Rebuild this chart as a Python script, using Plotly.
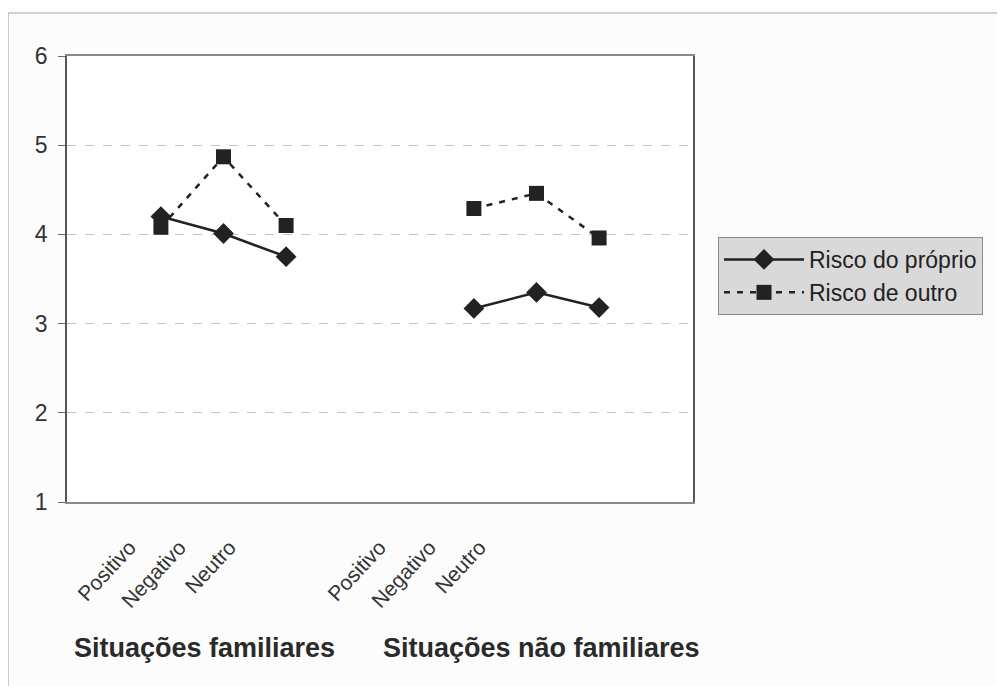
import plotly.graph_objects as go

# ---- data ----
categories = ["", "Positivo", "Negativo", "Neutro", "", "", "Positivo", "Negativo", "Neutro", ""]
risco_proprio = [None, 4.20, 4.01, 3.75, None, None, 3.17, 3.35, 3.18, None]
risco_outro = [None, 4.08, 4.87, 4.10, None, None, 4.29, 4.46, 3.96, None]
group_labels = ["Situações familiares", "Situações não familiares"]
y_ticks = [1, 2, 3, 4, 5, 6]

x_idx = list(range(len(categories)))
label_idx = [i for i, c in enumerate(categories) if c]
label_txt = [categories[i] for i in label_idx]

FONT = "Liberation Sans, Arial, sans-serif"
INK = "#222222"

# page body has an 8px margin: size/margins compensate for it
W, H = 997, 678
PL, PT, PW, PH = 59, 48, 626, 446

fig = go.Figure()
fig.add_trace(go.Scatter(
    x=x_idx, y=risco_proprio, mode="lines+markers", name="Risco do próprio",
    line=dict(color=INK, width=2.5),
    marker=dict(symbol="diamond", size=16, color=INK),
    connectgaps=False,
))
fig.add_trace(go.Scatter(
    x=x_idx, y=risco_outro, mode="lines+markers", name="Risco de outro",
    line=dict(color=INK, width=2.5, dash="6px,7px"),
    marker=dict(symbol="square", size=15, color=INK),
    connectgaps=False,
))

fig.update_layout(
    width=W, height=H,
    margin=dict(l=PL, r=W - PL - PW, t=PT, b=H - PT - PH),
    paper_bgcolor="#fcfcfc",
    plot_bgcolor="#ffffff",
    font=dict(family=FONT, color="#333333"),
    showlegend=True,
    legend=dict(
        x=(710 - PL) / PW, y=(PT + PH - 229) / PH, xanchor="left", yanchor="top",
        bgcolor="#d9d9d9", bordercolor="#8a8a8a", borderwidth=1,
        font=dict(size=23, color="#222222", family=FONT),
        itemwidth=80, tracegroupgap=0,
    ),
    xaxis=dict(
        range=[-0.5, len(categories) - 0.5],
        showticklabels=False, showgrid=False, zeroline=False,
        showline=True, mirror=True, linecolor="#8a8a8a", linewidth=1.5,
        ticks="",
    ),
    xaxis2=dict(
        overlaying="x", anchor="y", side="bottom",
        range=[-0.25, -0.25 + PW / 50],
        tickmode="array", tickvals=label_idx, ticktext=label_txt,
        tickangle=-47, showgrid=False, zeroline=False, showline=False,
        ticks="", tickfont=dict(size=21, color="#333333", family=FONT),
        ticklabelstandoff=28,
    ),
    yaxis=dict(
        range=[1, 6], tickmode="array", tickvals=y_ticks,
        showgrid=True, gridcolor="#c4c4c4", griddash="dash", gridwidth=1,
        zeroline=False, showline=True, mirror=True,
        linecolor="#555555", linewidth=1.5,
        ticks="outside", ticklen=7, tickcolor="#666666",
        tickfont=dict(size=23, color="#333333", family=FONT),
        ticklabelstandoff=6,
    ),
)

# invisible anchor trace so the label axis is drawn
fig.add_trace(go.Scatter(x=label_idx, y=[None] * len(label_idx), xaxis="x2",
                         showlegend=False, hoverinfo="skip", mode="markers"))

# group labels
for txt, xc in zip(group_labels, [196, 533]):
    fig.add_annotation(
        text=f"<b>{txt}</b>", xref="paper", yref="paper",
        x=(xc - PL) / PW, y=(PT + PH - 640) / PH,
        xanchor="center", yanchor="middle", showarrow=False,
        font=dict(size=27, color="#2a2a2a", family=FONT),
    )

# outer frame of the chart
fig.add_shape(type="rect", xref="paper", yref="paper",
              x0=(0 - PL) / PW, x1=(1010 - PL) / PW,
              y0=(PT + PH - 5) / PH, y1=(PT + PH - 700) / PH,
              line=dict(color="#a8a8a8", width=1.2), fillcolor="rgba(0,0,0,0)",
              layer="below")

fig.write_html("out.html")
